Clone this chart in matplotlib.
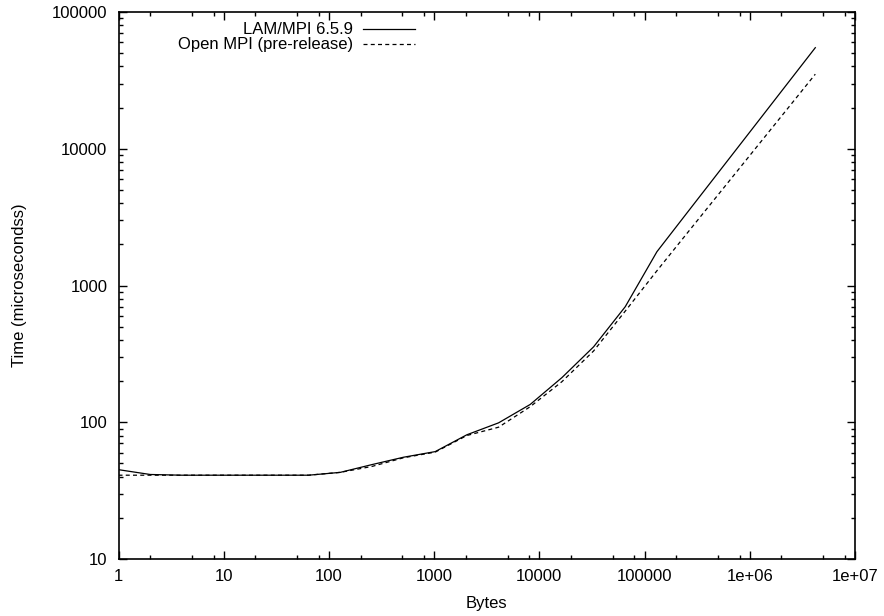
import matplotlib
matplotlib.use("Agg")
import matplotlib.pyplot as plt
from matplotlib.lines import Line2D
from matplotlib.ticker import LogLocator, FixedFormatter, FixedLocator, NullFormatter

plt.rcParams['font.family'] = ['Liberation Sans', 'DejaVu Sans']

sizes = [1, 2, 4, 8, 16, 32, 64, 128, 256, 512, 1024, 2048, 4096, 8192,
         16384, 32768, 65536, 131072, 262144, 524288, 1048576, 2097152, 4194304]
lam = [45, 41.5, 41, 41, 41, 41, 41, 43, 49, 55.5, 61, 81, 99, 135,
       212, 356, 700, 1767, 3516, 6986, 13880, 27590, 54830]
ompi = [41, 41, 41, 41, 41, 41, 41, 43, 47.5, 55, 60.5, 80, 92, 130,
        198, 332, 650, 1282, 2488, 4820, 9340, 18100, 35100]
series_names = ['LAM/MPI 6.5.9', 'Open MPI (pre-release)']

x_ticks = [1, 10, 100, 1000, 10000, 100000, 1000000, 10000000]
x_labels = ["1", "10", "100", "1000", "10000", "100000", "1e+06", "1e+07"]
y_ticks = [10, 100, 1000, 10000, 100000]
y_labels = ["10", "100", "1000", "10000", "100000"]

W, H = 884, 616
L, R, T, B = 118.5, 855, 12, 559
fig = plt.figure(figsize=(W / 100, H / 100), dpi=100)
ax = fig.add_axes([L / W, 1 - B / H, (R - L) / W, (B - T) / H])

DASH = (3.2, 2.6)
ax.plot(sizes, lam, color='black', lw=0.9)
ax.plot(sizes, ompi, color='black', lw=0.9, dashes=DASH)

ax.set_xscale('log')
ax.set_yscale('log')
ax.set_xlim(1, 1e7)
ax.set_ylim(10, 100000)

ax.xaxis.set_major_locator(FixedLocator(x_ticks))
ax.xaxis.set_major_formatter(FixedFormatter(x_labels))
ax.xaxis.set_minor_locator(LogLocator(base=10, subs=[2, 5, 8], numticks=30))
ax.xaxis.set_minor_formatter(NullFormatter())
ax.yaxis.set_major_locator(FixedLocator(y_ticks))
ax.yaxis.set_major_formatter(FixedFormatter(y_labels))
ax.yaxis.set_minor_locator(LogLocator(base=10, subs=[2, 3, 4, 5, 6, 7, 8, 9], numticks=30))
ax.yaxis.set_minor_formatter(NullFormatter())

ax.tick_params(which='both', direction='in', top=True, right=True, width=1.0,
               labelsize=12)
ax.tick_params(which='major', length=6)
ax.tick_params(axis='x', which='major', pad=7)
ax.tick_params(axis='y', which='major', pad=8)
ax.tick_params(which='minor', length=3)
for s in ax.spines.values():
    s.set_linewidth(1.2)

ax.set_xlabel('Bytes', fontsize=12, labelpad=9)
ax.set_ylabel('Time (microsecondss)', fontsize=12, labelpad=18)

# key (gnuplot style: label right-aligned, sample line to its right)
def ax_x(px):
    return (px - L) / (R - L)

def ax_y(py):
    return 1 - (py - T) / (B - T)

key_rows = [29, 44]
key_styles = [dict(), dict(dashes=DASH)]
for name, row, style in zip(series_names, key_rows, key_styles):
    ax.text(ax_x(353), ax_y(row), name, transform=ax.transAxes, ha='right',
            va='center', fontsize=12)
    ax.add_line(Line2D([ax_x(363), ax_x(415)], [ax_y(row), ax_y(row)],
                       transform=ax.transAxes, color='black', lw=0.9, **style))

fig.savefig('out.png', dpi=100)
